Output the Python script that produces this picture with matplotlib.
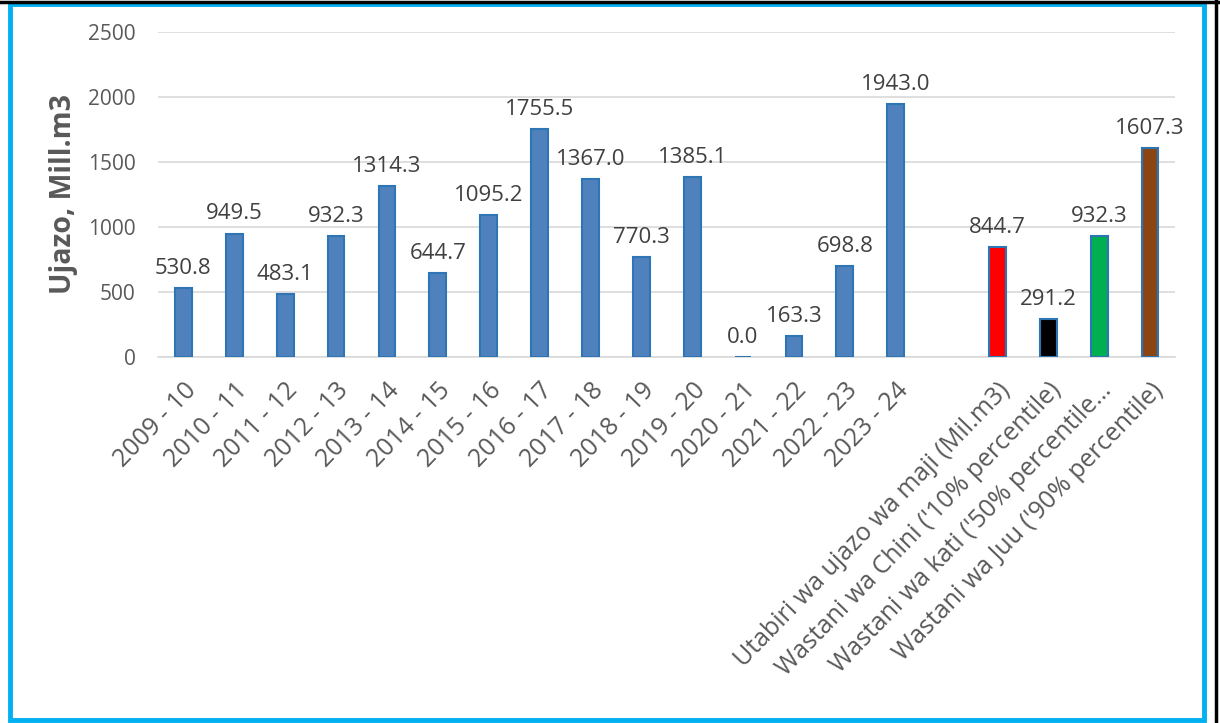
import numpy as np
import matplotlib.pyplot as plt
from matplotlib.patches import Rectangle

plt.rcParams['font.family'] = ['Open Sans', 'DejaVu Sans']

# data
years = ["2009 - 10", "2010 - 11", "2011 - 12", "2012 - 13", "2013 - 14",
         "2014 - 15", "2015 - 16", "2016 - 17", "2017 - 18", "2018 - 19",
         "2019 - 20", "2020 - 21", "2021 - 22", "2022 - 23", "2023 - 24"]
ujazo = [530.8, 949.5, 483.1, 932.3, 1314.3, 644.7, 1095.2, 1755.5,
         1367.0, 770.3, 1385.1, 0.0, 163.3, 698.8, 1943.0]
forecast_labels = ["Utabiri wa ujazo wa maji (Mil.m3)",
                   "Wastani wa Chini ('10% percentile)",
                   "Wastani wa kati ('50% percentile…",
                   "Wastani wa Juu ('90% percentile)"]
forecast_values = [844.7, 291.2, 932.3, 1607.3]
forecast_colors = ["#FF0000", "#000000", "#00B050", "#8B4513"]

labels = years + [""] + forecast_labels
values = ujazo + [np.nan] + forecast_values
colors = ["#4F81BD"] * len(years) + ["none"] + forecast_colors

fig = plt.figure(figsize=(12.2, 7.23), dpi=100)
ax = fig.add_axes([0.1295, 0.506, 0.834, 0.45])

x = np.arange(len(labels))
ax.bar(x, values, width=0.33, color=colors, edgecolor="#2E75B6", linewidth=1.5, zorder=3)

for xi, v in zip(x, values):
    if np.isnan(v):
        continue
    ax.text(xi, v + 70, f"{v:.1f}", ha="center", va="bottom", fontsize=16, color="#404040")

ax.set_xlim(-0.5, len(labels) - 0.5)
ax.set_ylim(0, 2500)
ax.set_yticks(np.arange(0, 2501, 500))
ax.yaxis.grid(True, color="#D9D9D9", linewidth=1.2)
ax.set_axisbelow(True)
for s in ["top", "right", "left"]:
    ax.spines[s].set_visible(False)
ax.spines["bottom"].set_color("#D9D9D9")
ax.spines["bottom"].set_linewidth(1.2)
ax.tick_params(axis="both", length=0, labelcolor="#595959")
ax.tick_params(axis="y", pad=16, labelsize=15)
ax.tick_params(axis="x", pad=15)
ax.set_xticks(x)
ax.set_xticklabels(labels, rotation=46, ha="right", rotation_mode="anchor", fontsize=18)
ax.set_ylabel("Ujazo, Mill.m3", fontsize=20.5, fontweight="bold", color="#595959", labelpad=7)

# frame around the chart
fig.patches.append(Rectangle((0.0082, 0.004), 0.979, 0.99, transform=fig.transFigure,
                             fill=False, edgecolor="#00B0F0", linewidth=3.5))
fig.add_artist(plt.Line2D([0, 1], [0.997, 0.997], color="black", linewidth=2.5, transform=fig.transFigure))
fig.add_artist(plt.Line2D([0.9965, 0.9965], [0, 1], color="black", linewidth=2.5, transform=fig.transFigure))

fig.savefig("out.png", dpi=100)
